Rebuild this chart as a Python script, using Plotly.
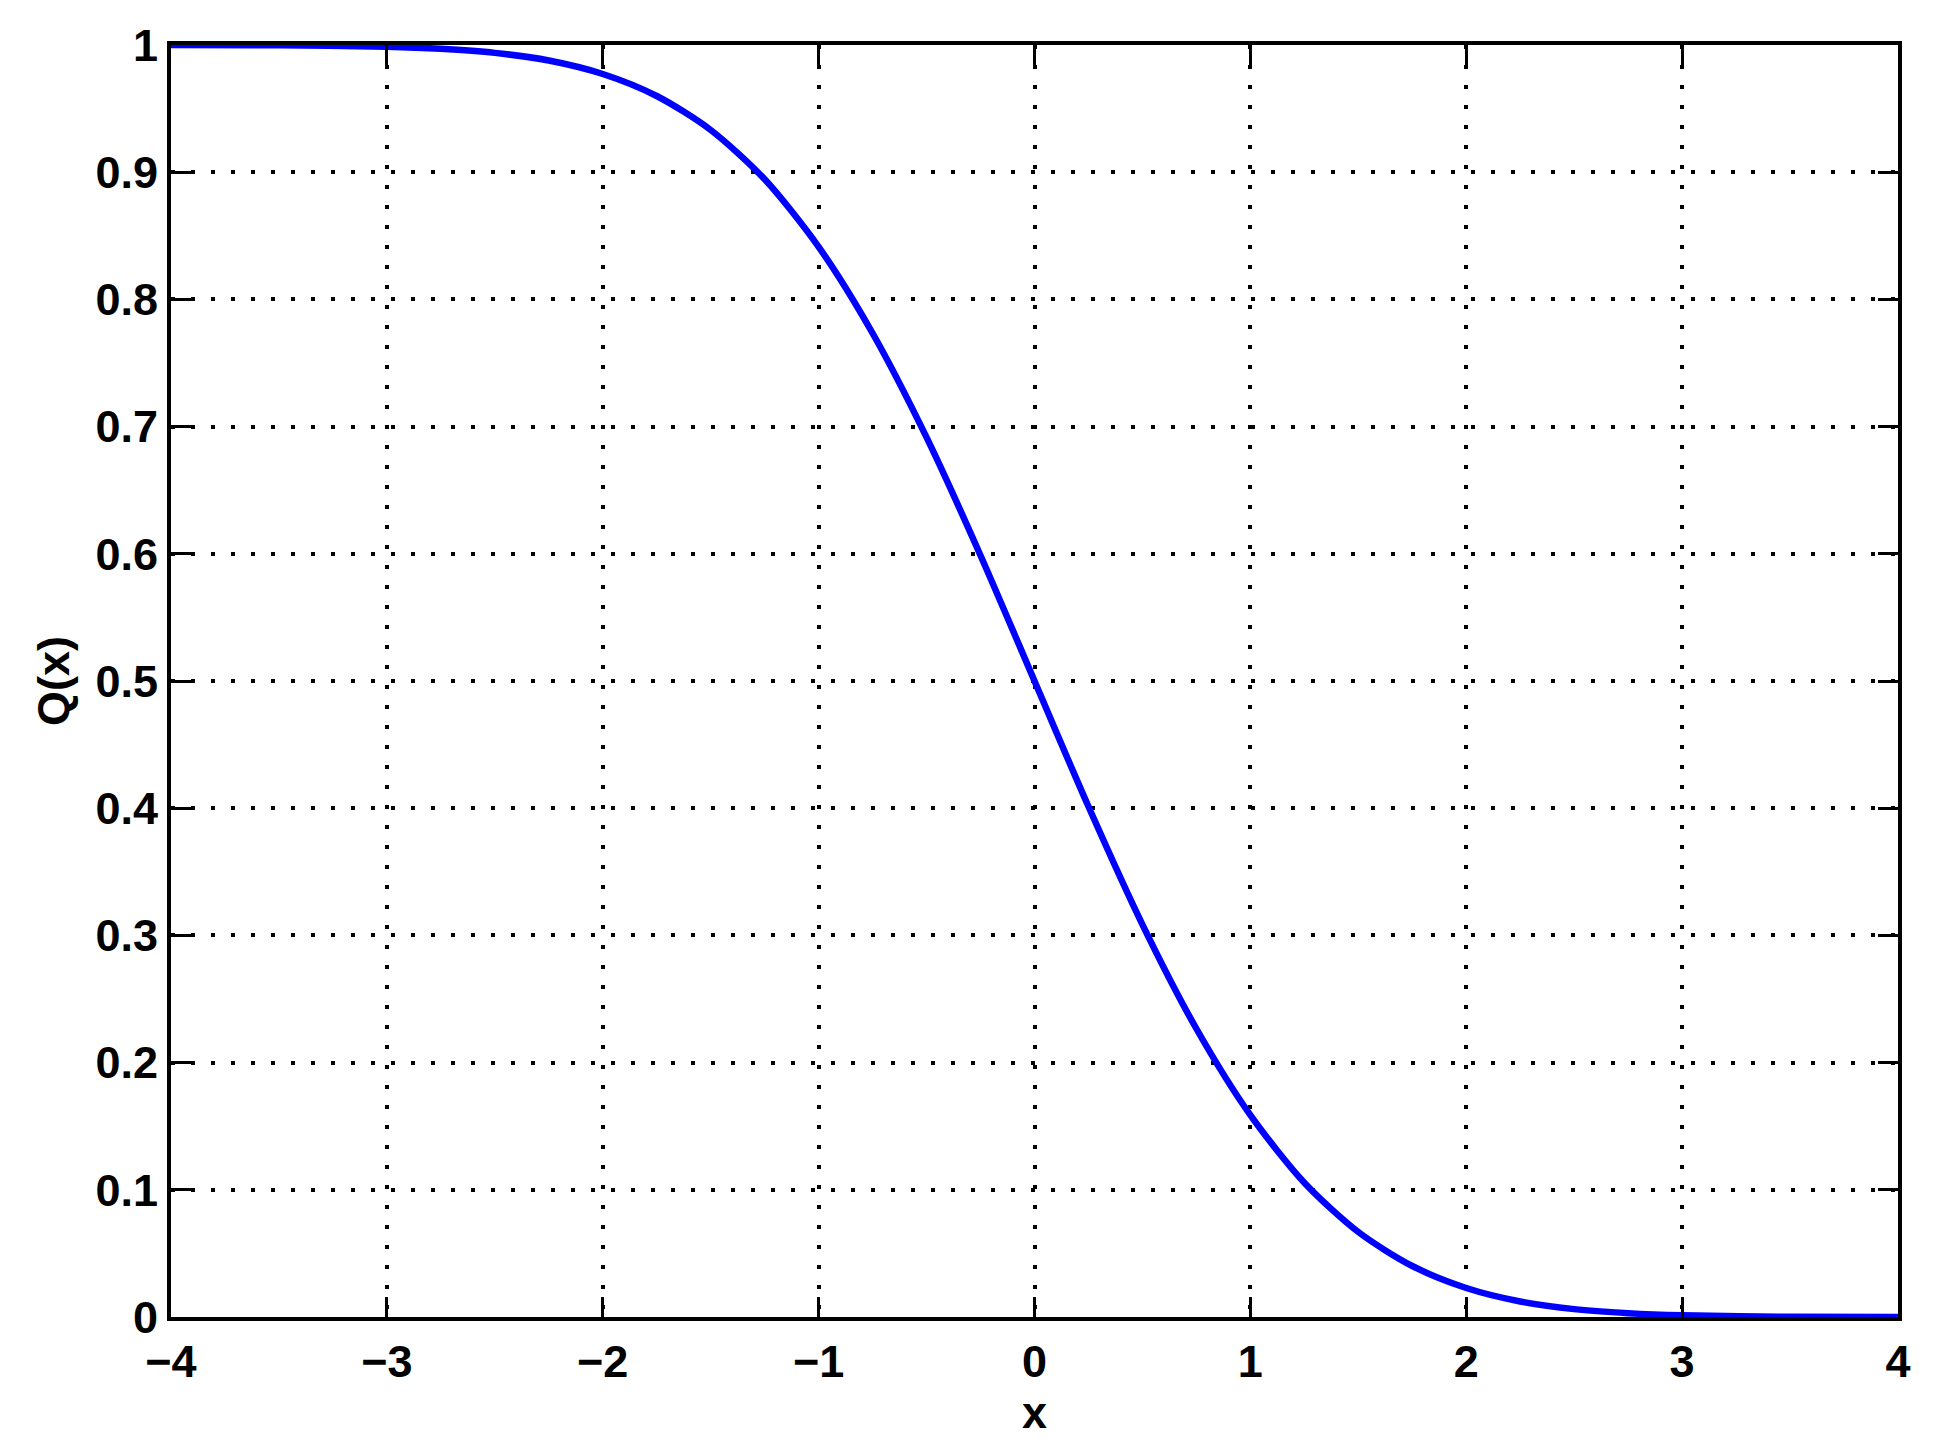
import plotly.graph_objects as go

# --- DATA ---
x_vals = [-4, -3.5, -3, -2.75, -2.5, -2.25, -2, -1.75, -1.5, -1.25, -1, -0.75, -0.5, -0.25,
          0, 0.25, 0.5, 0.75, 1, 1.25, 1.5, 1.75, 2, 2.25, 2.5, 2.75, 3, 3.5, 4]
q_vals = [1.0, 0.9998, 0.9987, 0.997, 0.9938, 0.9878, 0.9772, 0.9599, 0.9332, 0.8944, 0.8413,
          0.7734, 0.6915, 0.5987, 0.5, 0.4013, 0.3085, 0.2266, 0.1587, 0.1056, 0.0668,
          0.0401, 0.0228, 0.0122, 0.0062, 0.003, 0.0013, 0.0002, 0.0]

x_ticks = [-4, -3, -2, -1, 0, 1, 2, 3, 4]
y_ticks = [0, 0.1, 0.2, 0.3, 0.4, 0.5, 0.6, 0.7, 0.8, 0.9, 1]
y_labels = ["0", "0.1", "0.2", "0.3", "0.4", "0.5", "0.6", "0.7", "0.8", "0.9", "1"]

FONT = dict(family="Liberation Sans, Arial, sans-serif", size=45, color="black", weight="bold")

fig = go.Figure(go.Scatter(
    x=x_vals, y=q_vals,
    mode="lines",
    line=dict(color="#0000ff", width=6.5, shape="spline", smoothing=0.8),
    showlegend=False,
))

axis_style = dict(
    showline=True, linecolor="black", linewidth=4, mirror="ticks",
    ticks="inside", ticklen=20, tickwidth=3, tickcolor="black",
    showgrid=True, gridcolor="black", gridwidth=4, griddash="4px,16px",
    zeroline=False, tickfont=FONT,
)

fig.update_xaxes(range=[-4, 4], tickvals=x_ticks, ticklabelstandoff=2,
                 title=dict(text="x", font=FONT, standoff=4), **axis_style)
fig.update_yaxes(range=[0, 1], tickvals=y_ticks, ticktext=y_labels,
                 ticklabelstandoff=0,
                 title=dict(text="Q(x)", font=FONT, standoff=13), **axis_style)

# page body adds ~8px offset, so margins are shifted to keep the plot box in place
fig.update_layout(
    width=1956, height=1454,
    paper_bgcolor="white", plot_bgcolor="white",
    margin=dict(l=163, r=66, t=37, b=145),
    font=FONT,
)

fig.write_html("out.html")
